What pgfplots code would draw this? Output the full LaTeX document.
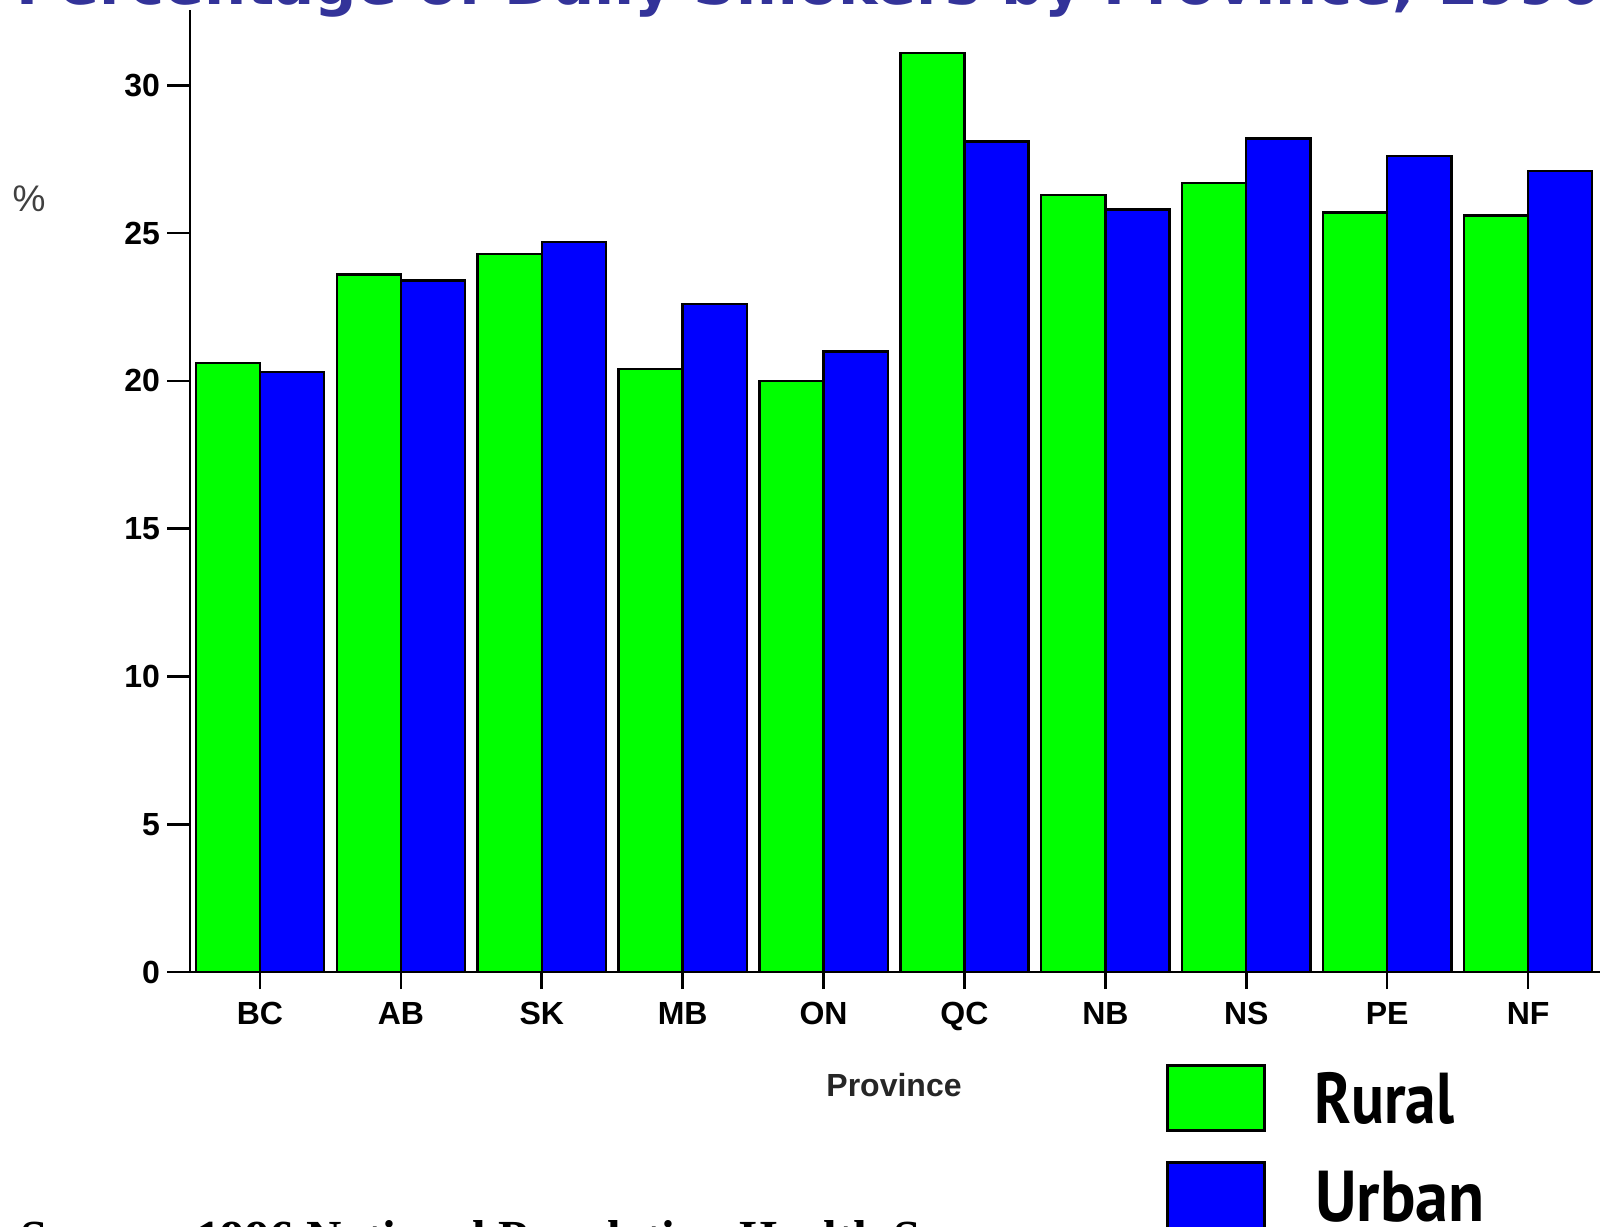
\documentclass[border=0pt]{standalone}
\usepackage{pgfplots}
\pgfplotsset{compat=1.18}
\usepackage{fontspec}
\setmainfont{Liberation Sans}
\newfontfamily\titlefont{DejaVu Sans}
\newfontfamily\srcfont{Liberation Serif}
\newfontfamily\legfontA[FakeStretch=0.85]{PT Sans}
\newfontfamily\legfontB[FakeStretch=0.92]{PT Sans}
\definecolor{titleblue}{RGB}{51,51,153}
\definecolor{rgreen}{RGB}{0,255,0}
\definecolor{ublue}{RGB}{0,0,255}
\begin{document}
\begin{tikzpicture}
\useasboundingbox (0,0) rectangle (800pt,613pt);
\clip (0,0) rectangle (800pt,613pt);
\begin{axis}[
  at={(95pt,127pt)}, anchor=south west,
  scale only axis, width=711.3pt, height=481pt,
  xmin=-0.4968, xmax=9.6, ymin=0, ymax=32.55,
  axis lines=left, axis line style={-, line width=1.3pt},
  xtick={0,...,9}, xticklabels={BC,AB,SK,MB,ON,QC,NB,NS,PE,NF},
  ytick={0,5,...,30},
  tick align=outside, major tick length=11.5pt,
  tick style={line width=1.3pt, black},
  xtick style={/pgfplots/major tick length=8.5pt},
  ticklabel style={font=\fontsize{16}{19}\selectfont\bfseries},
  /pgf/number format/assume math mode=true,
  clip=false,
]
\addplot[ybar, bar width=0.4556, bar shift=-0.2278, fill=rgreen, draw=black, line width=1.2pt] coordinates {(0,20.6) (1,23.6) (2,24.3) (3,20.4) (4,20.0) (5,31.1) (6,26.3) (7,26.7) (8,25.7) (9,25.6)};
\addplot[ybar, bar width=0.4556, bar shift=0.2278, fill=ublue, draw=black, line width=1.2pt] coordinates {(0,20.3) (1,23.4) (2,24.7) (3,22.6) (4,21.0) (5,28.1) (6,25.8) (7,28.2) (8,27.6) (9,27.1)};
\end{axis}
\node[anchor=base west, inner sep=0, font=\titlefont\bfseries\fontsize{29.6}{34}\selectfont, text=titleblue] at (8pt,610.5pt) {Percentage of Daily Smokers by Province, 1996};
\node[font=\bfseries\fontsize{16}{19}\selectfont, text=black!85] at (447pt,70.5pt) {Province};
\node[font=\fontsize{18.5}{22}\selectfont, text=black!75] at (14.5pt,513.5pt) {\%};
\node[anchor=base west, inner sep=0, font=\srcfont\bfseries\fontsize{24.5}{28}\selectfont] at (10pt,-14pt) {Source: 1996 National Population Health Survey};
\draw[line width=1.5pt, fill=rgreen] (583.5pt,48pt) rectangle (632pt,80pt);
\draw[line width=1.5pt, fill=ublue] (583.5pt,-2pt) rectangle (632pt,32pt);
\node[anchor=base west, inner sep=0, font=\legfontA\bfseries\fontsize{36}{40}\selectfont] at (657pt,51.5pt) {Rural};
\node[anchor=base west, inner sep=0, font=\legfontB\bfseries\fontsize{36}{40}\selectfont] at (657.5pt,2.5pt) {Urban};
\end{tikzpicture}
\end{document}
